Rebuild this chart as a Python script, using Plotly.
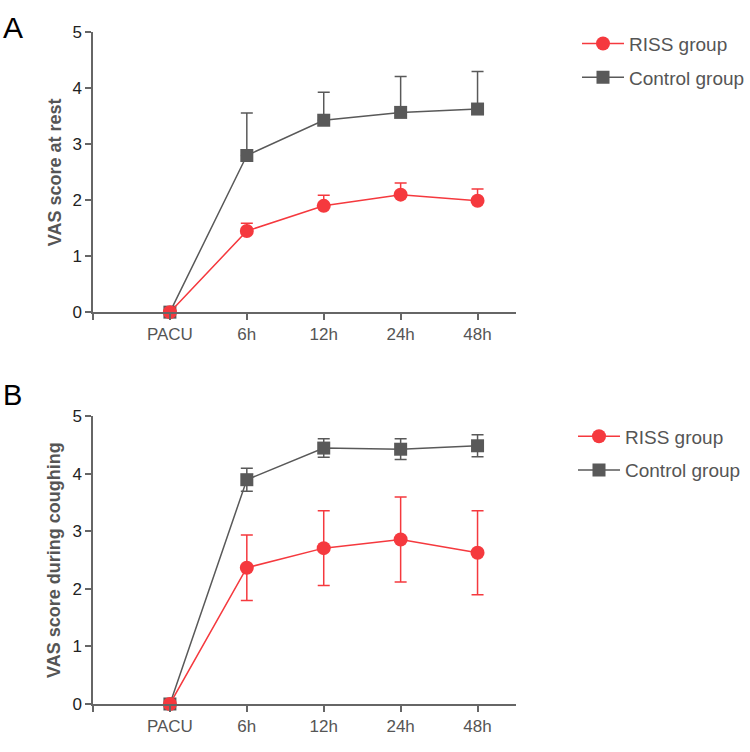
import plotly.graph_objects as go

categories = ["PACU", "6h", "12h", "24h", "48h"]
x_pos = [0, 1, 2, 3, 4]

# Panel A: VAS at rest (mean, upper SD only)
rest_riss = [0, 1.45, 1.90, 2.10, 1.99]
rest_riss_err = [0, 0.14, 0.19, 0.21, 0.21]
rest_ctrl = [0, 2.80, 3.43, 3.57, 3.63]
rest_ctrl_err = [0, 0.76, 0.50, 0.64, 0.67]

# Panel B: VAS during coughing (mean +/- SD)
cough_riss = [0, 2.37, 2.71, 2.86, 2.63]
cough_riss_err = [0, 0.57, 0.65, 0.74, 0.73]
cough_ctrl = [0, 3.90, 4.45, 4.43, 4.49]
cough_ctrl_err = [0, 0.20, 0.16, 0.18, 0.19]

RED = "#F5393E"
GREY = "#595959"
AX = "#666666"
FONT = "Arial"

fig = go.Figure()

def add(y, err, name, color, symbol, size, xa, ya, legend, sym, group, rank):
    fig.add_trace(go.Scatter(
        x=x_pos, y=y, name=name, mode="lines+markers",
        xaxis=xa, yaxis=ya, legend=legend, legendgroup=group, legendrank=rank,
        line=dict(color=color, width=1.5),
        marker=dict(color=color, symbol=symbol, size=size),
        error_y=dict(type="data", array=err,
                     arrayminus=(err if sym else [0] * len(err)),
                     symmetric=False, color=color, thickness=1.5, width=6),
        cliponaxis=False,
    ))

add(rest_ctrl, rest_ctrl_err, "Control group", GREY, "square", 13, "x", "y", "legend", False, "a_ctrl", 2)
add(rest_riss, rest_riss_err, "RISS group", RED, "circle", 14, "x", "y", "legend", False, "a_riss", 1)
add(cough_ctrl, cough_ctrl_err, "Control group", GREY, "square", 13, "x2", "y2", "legend2", True, "b_ctrl", 2)
add(cough_riss, cough_riss_err, "RISS group", RED, "circle", 14, "x2", "y2", "legend2", True, "b_riss", 1)

W, H = 750, 752
xdom = [93 / W, 516 / W]

xcommon = dict(range=[-1, 4.5], tickvals=[-1] + x_pos, ticktext=[""] + categories,
               showline=True, linecolor=AX, linewidth=1.5, ticks="outside",
               tickcolor=AX, tickwidth=1.5, ticklen=6, showgrid=False, zeroline=False,
               tickfont=dict(family=FONT, size=17, color="#555555"), domain=xdom)
ycommon = dict(range=[0, 5], tickvals=[0, 1, 2, 3, 4, 5], showline=True, linecolor=AX,
               linewidth=1.5, ticks="outside", tickcolor=AX, tickwidth=1.5, ticklen=6,
               showgrid=False, zeroline=False,
               tickfont=dict(family=FONT, size=17, color="#222222"))

legcommon = dict(xanchor="left", yanchor="top", traceorder="grouped",
                 tracegroupgap=6, itemwidth=42,
                 font=dict(family=FONT, size=19, color="#555555"),
                 bgcolor="rgba(0,0,0,0)")

fig.update_layout(
    width=W, height=H, margin=dict(l=0, r=0, t=0, b=0),
    plot_bgcolor="white", paper_bgcolor="white",
    xaxis=dict(**xcommon, anchor="y"),
    yaxis=dict(**ycommon, domain=[1 - 311 / H, 1 - 24 / H], anchor="x",
               title=dict(text="<b>VAS score at rest</b>", standoff=6,
                          font=dict(family=FONT, size=18, color="#555555"))),
    xaxis2=dict(**xcommon, anchor="y2"),
    yaxis2=dict(**ycommon, domain=[1 - 713 / H, 1 - 418 / H], anchor="x2",
                title=dict(text="<b>VAS score during coughing</b>", standoff=7,
                           font=dict(family=FONT, size=18, color="#555555"))),
    legend=dict(x=577 / W, y=1 - 16 / H, **legcommon),
    legend2=dict(x=573 / W, y=1 - 419 / H, **legcommon),
    annotations=[
        dict(text="A", x=1 / W, y=1 - 0 / H, xref="paper", yref="paper", xanchor="left",
             yanchor="top", showarrow=False, font=dict(family=FONT, size=30, color="black")),
        dict(text="B", x=1 / W, y=1 - 378 / H, xref="paper", yref="paper", xanchor="left",
             yanchor="top", showarrow=False, font=dict(family=FONT, size=29, color="black")),
    ],
)

fig.write_html("out.html", config={"displayModeBar": False},
               post_script="document.body.style.margin='0';document.body.style.overflow='hidden';")
